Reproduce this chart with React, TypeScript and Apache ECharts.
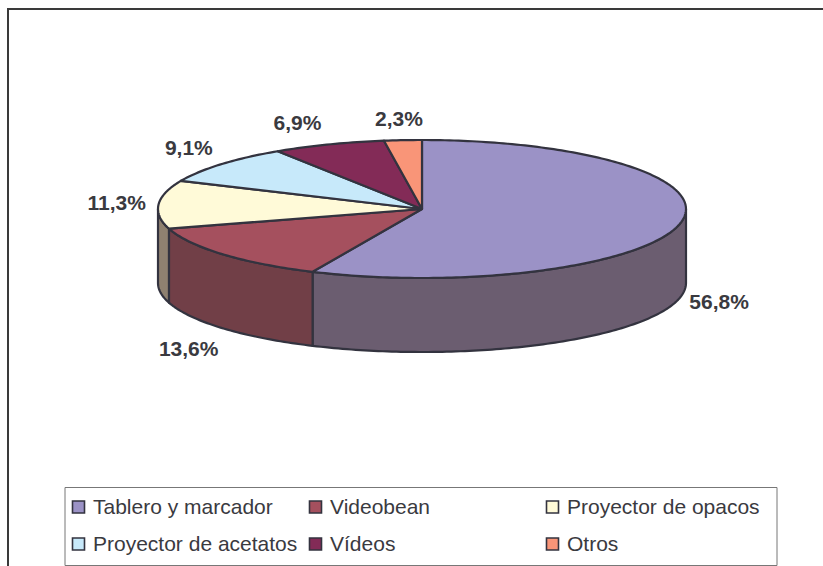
import React, { useEffect, useRef } from "react";
import * as echarts from "echarts";

const categories = ["Tablero y marcador", "Videobean", "Proyector de opacos", "Proyector de acetatos", "Vídeos", "Otros"];
const shares = [56.8, 13.6, 11.3, 9.1, 6.9, 2.3];
const topColors = ["#9B92C6", "#A5505E", "#FFFAD8", "#C7E9FA", "#832B57", "#F99578"];
const wallColors = ["#6B5D70", "#713F47", "#8F8170", "#8F8F95", "#5B2040", "#A86650"];
const labelNudges = [[0, -1], [-4, 4], [-2, 0], [-2, -1], [-17, 0], [-1, 2]];

const CX = 422, CY = 209, RX = 264, RY = 69, DEPTH = 74;
const INK = "#33333F";
const LABEL = "#3A3A3F";
const DEG = Math.PI / 180;
const total = shares.reduce((a, b) => a + b, 0);
const startAngle = (i: number) => (shares.slice(0, i).reduce((a, b) => a + b, 0) / total) * 360;
const rim = (deg: number, dy = 0) => [CX + RX * Math.sin(deg * DEG), CY - RY * Math.cos(deg * DEG) + dy];
const arcPoints = (a0: number, a1: number, dy = 0) => {
  const n = Math.max(2, Math.ceil(a1 - a0));
  const pts: number[][] = [];
  for (let k = 0; k <= n; k++) pts.push(rim(a0 + ((a1 - a0) * k) / n, dy));
  return pts;
};

const renderWall = (params: any, api: any) => {
  const i = params.dataIndex;
  const a0 = Math.max(startAngle(i), 90);
  const a1 = Math.min(startAngle(i) + (api.value(0) / total) * 360, 270);
  if (a1 <= a0) return { type: "group", children: [] };
  const points = [...arcPoints(a0, a1), ...arcPoints(a0, a1, DEPTH).reverse()];
  return {
    type: "polygon",
    shape: { points },
    style: { fill: wallColors[i], stroke: INK, lineWidth: 2.2, lineJoin: "round" },
  };
};

const renderTop = (params: any, api: any) => {
  const i = params.dataIndex;
  const v = api.value(0);
  const a0 = startAngle(i);
  const a1 = a0 + (v / total) * 360;
  const mid = (a0 + a1) / 2;
  const lower = Math.cos(mid * DEG) < 0;
  return {
    type: "group",
    children: [
      {
        type: "polygon",
        shape: { points: [[CX, CY], ...arcPoints(a0, a1)] },
        style: { fill: topColors[i], stroke: INK, lineWidth: 2.2, lineJoin: "round" },
      },
      {
        type: "text",
        style: {
          text: v.toFixed(1).replace(".", ",") + "%",
          x: CX + (RX + 40) * Math.sin(mid * DEG) + labelNudges[i][0],
          y: CY - (RY + 24) * Math.cos(mid * DEG) + (lower ? DEPTH : 0) + labelNudges[i][1],
          align: "center",
          verticalAlign: "middle",
          fill: LABEL,
          font: "bold 21px 'Liberation Sans', Arial, sans-serif",
        },
      },
    ],
  };
};

const legendColumns = [72.5, 309.5, 546.5];
const legendRows = [507, 544];

const legendItems = categories.flatMap((name, i) => {
  const x = legendColumns[i % 3];
  const y = legendRows[Math.floor(i / 3)];
  return [
    {
      type: "rect",
      shape: { x, y: y - 6, width: 12, height: 12 },
      style: { fill: topColors[i], stroke: INK, lineWidth: 1.6 },
    },
    {
      type: "text",
      x: x + 20.5,
      y: y - 1,
      style: {
        text: name,
        fill: LABEL,
        font: "21px 'Liberation Sans', Arial, sans-serif",
        verticalAlign: "middle",
      },
    },
  ];
});

export default function App() {
  const ref = useRef<HTMLDivElement>(null);
  useEffect(() => {
    const chart = echarts.init(ref.current!, undefined, { renderer: "svg" });
    chart.setOption({
      animation: false,
      backgroundColor: "#FFFFFF",
      graphic: [
        {
          type: "polyline",
          shape: { points: [[8, 566], [8, 9], [823, 9]] },
          style: { fill: "none", stroke: "#3A3A3A", lineWidth: 2 },
        },
        {
          type: "rect",
          shape: { x: 65, y: 487.5, width: 712, height: 78 },
          style: { fill: "#FFFFFF", stroke: "#777777", lineWidth: 1 },
        },
        ...legendItems,
      ],
      series: [
        { type: "custom", name: "Paredes", coordinateSystem: "none", renderItem: renderWall, data: shares.map((v) => [v]), silent: true, z: 2 },
        { type: "custom", name: "Uso", coordinateSystem: "none", renderItem: renderTop, data: shares.map((v) => [v]), silent: true, z: 3 },
      ],
    });
    return () => chart.dispose();
  }, []);
  return <div ref={ref} style={{ position: "absolute", left: 0, top: 0, width: 823, height: 566 }} />;
}
